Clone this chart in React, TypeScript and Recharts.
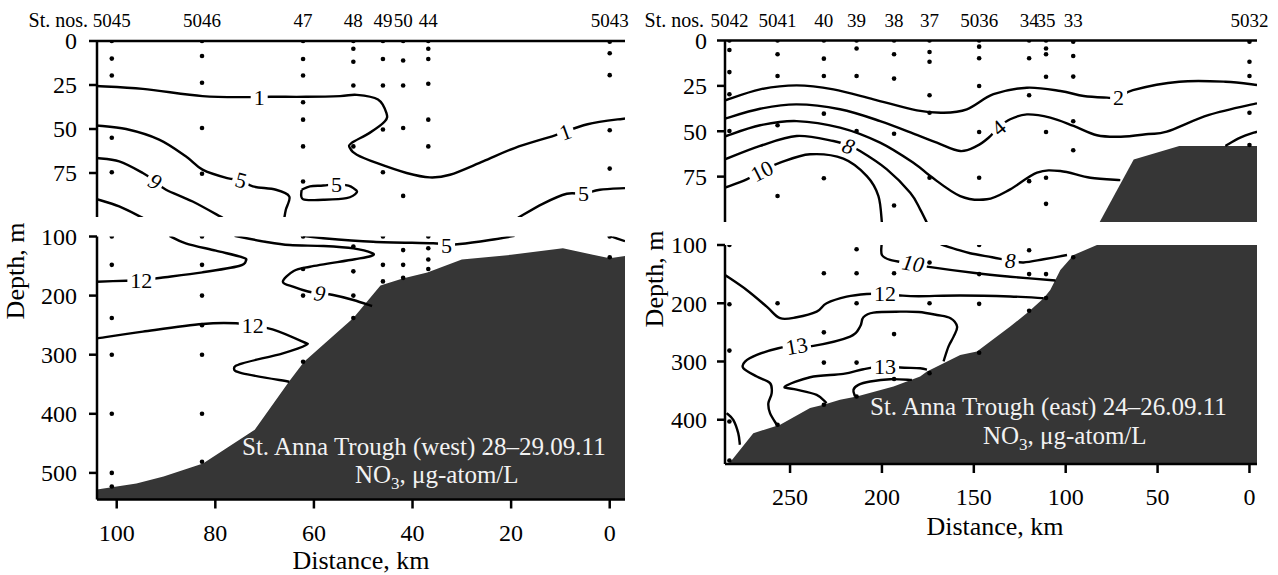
import React from 'react';
import { ComposedChart, Line, Area, Scatter, XAxis, YAxis } from 'recharts';

const FONT = 'Liberation Serif';

type Pt = [number, number];

// ---- stations (distance, km) ----
const westStations = ['5045', '5046', '47', '48', '49', '50', '44', '5043'];
const westStationKm = [101, 82.7, 62.2, 52, 46, 41.9, 36.8, 0];
const eastStations = ['5042', '5041', '40', '39', '38', '37', '5036', '34', '35', '33', '5032'];
const eastStationKm = [283, 256.8, 231.6, 213.8, 193.4, 174.1, 147.1, 119.9, 110.7, 95.9, 0];

// sampling depths per station, m
const westUpperDepths = [
  [0, 10, 19.6, 55, 74.6],
  [0, 8.5, 23.7, 49.4, 75.4],
  [0, 10.2, 19.6, 34.8, 44.7, 59.9, 79.8],
  [0, 4.4, 11.8, 25.3, 59.9],
  [0, 10.2, 25.3, 50.3, 74.6],
  [0, 11.1, 25.3, 49.4, 88],
  [0, 4.4, 10.2, 24.3, 44.7, 59.9],
  [0.4, 7, 19.4, 50.7, 72.5],
];
const westLowerDepths = [
  [100, 148, 238, 300, 400, 500, 523],
  [100, 148, 200, 250, 300, 400, 481],
  [100, 155, 200, 312],
  [117, 159, 200, 238],
  [100, 148, 176],
  [123, 148, 170],
  [100, 120, 139, 155],
  [100, 135],
];
const eastUpperDepths = [
  [0, 5.2, 17.4, 29.6, 49.9],
  [0, 7.6, 19.6, 46.7, 85.7],
  [0, 10, 19.6, 40.3, 75.9],
  [0, 4.4, 19.6, 49.9],
  [0, 7.6, 21, 51.4, 90.9],
  [0, 6.3, 11.7, 30.2, 39.8, 75.6],
  [0, 3.4, 9.8, 25.1, 50.4, 75.6],
  [0, 9.8, 30.2, 77.5],
  [0, 4.4, 7.6, 20, 50.4, 75.6, 90],
  [0.7, 8.5, 19.9, 44.5, 60.5],
  [0.7, 11.7, 19.6, 39.8, 57.6],
];
const eastLowerDepths = [
  [100, 201.7, 281.3, 403, 470],
  [200, 408.7],
  [148.5, 250, 301.9, 374.4],
  [107.4, 148.5, 200, 301.9, 360.2],
  [148.5, 253, 330],
  [130, 200, 320],
  [100, 150, 201, 285],
  [109, 150, 213],
  [150, 191],
  [121],
  [],
];

// ---- NO3 isolines, [distance km, depth m] ----
const westUpperLines: Pt[][] = [
  [[104, 25.6], [94.7, 27.2], [82.6, 31.3], [73.4, 31.9], [68.7, 31.7], [61.6, 31.7], [54.7, 31.3], [51.3, 30.6], [47, 33.2], [45.3, 40.9], [45.6, 45.6], [48.7, 52.2], [52.4, 58], [52.7, 60.8], [51.3, 64.6], [47.3, 69.3], [41.2, 75], [36.5, 77.5], [32.4, 76], [25.7, 68.4], [19.3, 60.8], [11.1, 53.6], [4.5, 47.3], [-3.1, 44]],
  [[104, 48], [98.1, 50], [91.4, 56], [86, 65.5], [82.6, 73.1], [77.6, 77.9], [74.8, 79], [72.4, 82.6], [67.7, 84.5], [65, 88.3], [65.7, 95.9], [66, 100.5]],
  [[62.5, 84.5], [62.2, 89.9], [58.1, 90.2], [53.4, 89.3], [51.3, 86], [52, 83.6], [53, 82.2], [55.1, 81.3], [58.1, 82.1], [60.8, 82.6], [62.5, 84.5]],
  [[18.6, 100.5], [13.6, 92.5], [8.7, 86.8], [5.3, 86.8], [2, 84.5], [-3.1, 83.6]],
  [[104, 66.5], [99.5, 68.4], [94.7, 75], [92.2, 79.8], [90, 84.5], [84.6, 91.2], [78.5, 100.5]],
  [[104, 89.9], [99.5, 94], [94.7, 100.5]],
];
const westLowerLines: Pt[][] = [
  [[104, 176.5], [98.1, 174.8], [94.7, 173.6], [91, 169.7], [82.6, 160.6], [75.2, 149.9], [73.8, 141], [74.5, 135.2], [79.9, 124], [86, 111.5], [89.3, 99]],
  [[76.1, 99], [69.9, 108.8], [64.9, 114.4], [58.1, 116.1], [52, 120], [48.2, 128], [48.4, 133], [51.7, 138.5], [60.8, 151.1], [64.1, 158.4], [66.3, 176.5], [64.1, 185.4], [61.2, 193.1], [58.8, 196.1], [56.1, 199], [52, 207.4], [48.2, 217.6]],
  [[62.2, 99], [58.1, 103], [48, 108.8], [35.8, 111.5], [33.1, 113.5], [30.4, 112.7], [24.3, 105.9], [19.3, 99]],
  [[0, 99], [-3.1, 108]],
  [[104, 272.3], [94.7, 261], [82.6, 248], [75.8, 246.9], [72.4, 252], [68.4, 257], [62.3, 278], [61.6, 283.6], [66.3, 297.6], [74.5, 314.6], [76.2, 323], [74.5, 331.5], [65, 345.7]],
];
const eastUpperLines: Pt[][] = [
  [[285.4, 33], [266.3, 26.9], [246.4, 24.7], [226.4, 26.9], [204.6, 32.4], [181, 38.5], [166.5, 39.8], [153.8, 37.9], [139.3, 29.6], [121.1, 26], [102.9, 27.8], [90.2, 30.6], [77.5, 31.5], [71.2, 31.5], [63.4, 27.3], [38.2, 22.7], [13.1, 22.7], [-4.1, 24.5]],
  [[285.4, 43], [266.3, 37.6], [246.4, 35.2], [222.8, 37.9], [201, 44.4], [181, 52], [170.1, 56.3], [157.4, 60.9], [148.3, 58.1], [142, 53.6], [136.6, 48], [130.2, 43.4], [121.1, 40.7], [108.4, 42.5], [95.7, 47.1], [83, 52.2], [70, 53], [55, 51.5], [45, 50.2], [22, 41], [-4.1, 34.6]],
  [[285.4, 52.8], [266.3, 46.7], [246.4, 44.4], [222.8, 48], [201, 56.3], [182, 68], [173.7, 74.7], [157.4, 85.7], [142.9, 87.5], [130.2, 82], [115.6, 72.8], [102.9, 71.9], [86.6, 75.6], [70.3, 76.9]],
  [[13.1, 58.1], [5, 53.5], [-4.1, 50.2]],
  [[285.4, 65.5], [266.3, 58.1], [246.4, 52.6], [226.4, 55.4], [218.2, 58.1], [211.9, 60.9], [197.3, 71], [184.6, 83.9], [179.2, 93], [175.5, 100.5]],
  [[285.4, 81.1], [273.6, 76.5], [265.4, 71.9], [255.4, 67.3], [239.1, 62.7], [221, 65.1], [208.2, 74.7], [201.9, 85.7], [200, 100.5]],
];
const eastLowerLines: Pt[][] = [
  [[200.2, 99], [200, 117.2], [195.5, 125.7], [185.6, 131.4], [175.5, 137.2], [148.3, 148.6], [130.2, 154.4], [105.5, 161]],
  [[168, 99], [160, 107], [152, 114.2], [140, 121], [130.2, 126.9], [122.9, 130], [112, 124.5], [99.3, 117.2]],
  [[285.4, 151.5], [273.6, 177.2], [262.7, 205.8], [255.4, 225.7], [246.4, 224], [235.5, 214.4], [230.1, 200], [219.2, 188.7], [208.3, 184.1], [198.3, 183.7], [190.1, 186.6], [180, 188], [157.4, 186.6], [130.2, 188.3], [112, 191.4]],
  [[257.2, 408.7], [260.9, 388.7], [261.8, 371.6], [260, 354.4], [260.9, 337.2], [268.1, 325.9], [275.4, 311.5], [274.5, 300.2], [268.1, 288.7], [256.4, 277.2], [246.4, 273.2], [237.3, 273.2], [217.3, 257.3], [211.9, 240.1], [210.1, 224], [204.6, 216.1], [190.1, 214.4], [180, 215], [170.1, 220.1], [162.7, 225.7], [159.1, 240.1], [161, 257.3], [163.8, 274.4], [166.5, 300]],
  [[230.1, 371.6], [235.5, 357.3], [247.8, 347.5], [252.7, 343], [239.1, 327], [221, 321.3], [210.1, 313.3], [198.3, 307.5], [190.1, 310.4], [179.2, 311.5], [175.5, 314]],
  [[214.6, 360.2], [215.5, 348.7], [212.8, 340.1], [206.4, 334.4], [195.5, 330.4], [183.7, 331.6]],
  [[284.5, 388.7], [280.9, 400.2], [278.2, 423], [277.3, 443]],
];

// ---- sea floor ----
const westBottom: Pt[] = [[104, 528], [96, 518], [90.5, 506], [82.5, 484], [72, 427], [65, 345], [62, 312], [52, 238], [46.5, 183], [42, 171], [37, 161], [30, 139], [20, 131], [9.5, 120], [0, 137], [-3.1, 133]];
const eastUpperBottom: Pt[] = [[81.5, 100], [63, 65.5], [38.2, 58.1], [-4.1, 58.1]];
const eastLowerBottom: Pt[] = [[285.4, 476], [282.7, 473.4], [270, 423], [255.4, 408.7], [239.1, 380], [231.8, 374.4], [222.8, 365.9], [213.7, 360.2], [193.7, 343], [179.2, 325.9], [175.5, 317.3], [157.4, 288.7], [148.3, 283], [130.2, 240.1], [120.2, 214.4], [112, 191.4], [108.4, 177.2], [102.9, 142.9], [95.7, 117.2], [83, 100], [-4.1, 100]];

// ---- isoline labels ----
const westUpperLabels = [
  { x: 71.1, y: 31.9, t: '1' },
  { x: 9, y: 51.7, t: '1', a: -20 },
  { x: 74.8, y: 79, t: '5', a: 15 },
  { x: 55.4, y: 81.3, t: '5' },
  { x: 92.2, y: 79.8, t: '9', a: 30, i: true },
  { x: 5.3, y: 86.8, t: '5' },
];
const westLowerLabels = [
  { x: 95, y: 174.5, t: '12' },
  { x: 72.4, y: 251, t: '12' },
  { x: 58.8, y: 196, t: '9', a: 10, i: true },
  { x: 33.1, y: 114.5, t: '5' },
];
const eastUpperLabels = [
  { x: 71.2, y: 31.5, t: '2' },
  { x: 136.6, y: 48, t: '4', a: -40 },
  { x: 218.2, y: 58.1, t: '8', a: 20, i: true },
  { x: 265.4, y: 71.9, t: '10', a: -27 },
];
const eastLowerLabels = [
  { x: 183, y: 131.4, t: '10', a: 10, i: true },
  { x: 130.2, y: 126.9, t: '8', i: true },
  { x: 198.3, y: 183.7, t: '12' },
  { x: 246.4, y: 273.2, t: '13', a: -10 },
  { x: 198.3, y: 307.5, t: '13' },
];

const westTicks = [100, 80, 60, 40, 20, 0];
const eastTicks = [250, 200, 150, 100, 50, 0];

// catmull-rom through the traced points
const smooth = (ctx: any) => {
  let p: number[][] = [];
  return {
    areaStart() {},
    areaEnd() {},
    lineStart() { p = []; },
    point(x: number, y: number) { p.push([x, y]); },
    lineEnd() {
      if (!p.length) return;
      ctx.moveTo(p[0][0], p[0][1]);
      for (let k = 0; k < p.length - 1; k++) {
        const a = p[k - 1] || p[k], b = p[k], c = p[k + 1], d = p[k + 2] || c;
        ctx.bezierCurveTo(
          b[0] + (c[0] - a[0]) / 6, b[1] + (c[1] - a[1]) / 6,
          c[0] - (d[0] - b[0]) / 6, c[1] - (d[1] - b[1]) / 6,
          c[0], c[1]
        );
      }
    },
  };
};

const DotShape = (props: any) => <circle cx={props.cx} cy={props.cy} r={2.3} fill="#000" />;

const LabelShape = (props: any) => {
  const { cx, cy, payload } = props;
  const w = payload.t.length * 11 + 6;
  return (
    <g transform={`rotate(${payload.a || 0} ${cx} ${cy})`}>
      <rect x={cx - w / 2} y={cy - 10} width={w} height={20} fill="#fff" />
      <text x={cx} y={cy} dy="0.35em" textAnchor="middle" fontSize={22} fontFamily={FONT}
        fontStyle={payload.i ? 'italic' : 'normal'} fill="#000">{payload.t}</text>
    </g>
  );
};

const YTick = (t: any) => (
  <text x={t.x} y={t.y} dy="0.35em" textAnchor="end" fontSize={24} fontFamily={FONT} fill="#000">
    {t.payload.value}
  </text>
);
const XTick = (t: any) => (
  <text x={t.x} y={t.y} dy="0.72em" textAnchor="middle" fontSize={24} fontFamily={FONT} fill="#000">
    {t.payload.value}
  </text>
);

const frame = { stroke: '#000', strokeWidth: 2.5 };

interface PanelProps {
  left: number; top: number; width: number; height: number;
  margin: { top: number; right: number; bottom: number; left: number };
  topH: number; yWidth: number; yMargin: number;
  xDomain: number[]; yDomain: number[]; yTicks: number[]; xTicks?: number[];
  km: number[]; names?: string[]; depths: number[][];
  lines: Pt[][]; labels: any[]; bottom?: Pt[];
}

function Panel(p: PanelProps) {
  const dots = p.depths.flatMap((ds, i) => ds.map(d => ({ x: p.km[i], y: d })));
  const lineData = p.lines.map(l => l.map(([x, y]) => ({ x, y })));
  const floor = p.bottom ? p.bottom.map(([x, y]) => ({ x, y })) : null;
  const StationTick = (t: any) => (
    <text x={t.x} y={26.5} textAnchor="middle" fontSize={19} fontFamily={FONT} fill="#000">
      {p.names ? p.names[p.km.indexOf(t.payload.value)] : ''}
    </text>
  );
  return (
    <div style={{ position: 'absolute', left: p.left, top: p.top }}>
      <ComposedChart width={p.width} height={p.height} margin={p.margin} style={{ fontFamily: FONT }}>
        {floor && (
          <Area data={floor} dataKey="y" baseValue={p.yDomain[1]} type="linear" fill="#363636"
            fillOpacity={1} stroke="none" isAnimationActive={false} />
        )}
        {lineData.map((d, i) => (
          <Line key={i} data={d} dataKey="y" type={smooth as any} stroke="#000" strokeWidth={2.4}
            dot={false} activeDot={false} isAnimationActive={false} />
        ))}
        <Scatter data={p.labels} shape={LabelShape} isAnimationActive={false} />
        <Scatter data={dots} shape={DotShape} isAnimationActive={false} />
        <XAxis dataKey="x" type="number" domain={p.xDomain} reversed allowDataOverflow
          ticks={p.xTicks} interval={0} tick={p.xTicks ? XTick : false} tickLine={p.xTicks ? frame : false}
          tickSize={9} tickMargin={15} height={p.xTicks ? 60 : 0} axisLine={frame} />
        <XAxis xAxisId="top" orientation="top" dataKey="x" type="number" domain={p.xDomain} reversed
          allowDataOverflow ticks={p.names ? p.km : undefined} interval={0}
          tick={p.names ? StationTick : false} tickLine={false} height={p.topH} axisLine={frame} />
        <YAxis dataKey="y" type="number" domain={p.yDomain} reversed allowDataOverflow ticks={p.yTicks}
          interval={0} width={p.yWidth} tick={YTick} tickLine={frame} tickSize={8} tickMargin={p.yMargin}
          axisLine={frame} />
        <YAxis yAxisId="r" orientation="right" dataKey="y" type="number" domain={p.yDomain} reversed
          allowDataOverflow width={0} tick={false} tickLine={false} axisLine={frame} />
      </ComposedChart>
    </div>
  );
}

const txt = { fontFamily: FONT, fill: '#000' };
const note = { fontFamily: FONT, fill: '#f2f2f2', fontSize: 25 };

export default function App() {
  return (
    <div style={{ position: 'absolute', left: 0, top: 0, width: 1278, height: 575, background: '#fff', fontFamily: FONT }}>
      <Panel left={0} top={0} width={640} height={225} margin={{ top: 0, right: 15, bottom: 8, left: 0 }}
        topH={41} yWidth={97} yMargin={12} xDomain={[-3.1, 104]} yDomain={[0, 100]} yTicks={[0, 25, 50, 75]}
        km={westStationKm} names={westStations} depths={westUpperDepths} lines={westUpperLines} labels={westUpperLabels} />
      <Panel left={0} top={216} width={640} height={359} margin={{ top: 20.5, right: 15, bottom: 15.5, left: 0 }}
        topH={0} yWidth={97} yMargin={12} xDomain={[-3.1, 104]} yDomain={[100, 545]} yTicks={[100, 200, 300, 400, 500]}
        xTicks={westTicks} km={westStationKm} depths={westLowerDepths} lines={westLowerLines}
        labels={westLowerLabels} bottom={westBottom} />
      <Panel left={640} top={0} width={638} height={230} margin={{ top: 0, right: 21, bottom: 8, left: 0 }}
        topH={40.5} yWidth={85} yMargin={10} xDomain={[-4.1, 285.4]} yDomain={[0, 100]} yTicks={[0, 25, 50, 75]}
        km={eastStationKm} names={eastStations} depths={eastUpperDepths} lines={eastUpperLines}
        labels={eastUpperLabels} bottom={eastUpperBottom} />
      <Panel left={640} top={226} width={638} height={349} margin={{ top: 19, right: 21, bottom: 51, left: 0 }}
        topH={0} yWidth={85} yMargin={10} xDomain={[-4.1, 285.4]} yDomain={[100, 476]} yTicks={[100, 200, 300, 400]}
        xTicks={eastTicks} km={eastStationKm} depths={eastLowerDepths} lines={eastLowerLines}
        labels={eastLowerLabels} bottom={eastLowerBottom} />

      <svg width={1278} height={575} style={{ position: 'absolute', left: 0, top: 0, pointerEvents: 'none' }}>
        <text x={88} y={26.5} textAnchor="end" fontSize={20} {...txt}>St. nos.</text>
        <text x={704} y={26.5} textAnchor="end" fontSize={20} {...txt}>St. nos.</text>
        <text transform="translate(24,271) rotate(-90)" textAnchor="middle" fontSize={26} {...txt}>Depth, m</text>
        <text transform="translate(663,279) rotate(-90)" textAnchor="middle" fontSize={26} {...txt}>Depth, m</text>
        <text x={361} y={569} textAnchor="middle" fontSize={26} {...txt}>Distance, km</text>
        <text x={995} y={535} textAnchor="middle" fontSize={26} {...txt}>Distance, km</text>
        <text x={242} y={455} {...note}>St. Anna Trough (west) 28–29.09.11</text>
        <text x={355} y={483} {...note}>NO<tspan fontSize={17} dy={6}>3</tspan><tspan dy={-6}>, μg-atom/L</tspan></text>
        <text x={870} y={415} {...note}>St. Anna Trough (east) 24–26.09.11</text>
        <text x={983} y={444} {...note}>NO<tspan fontSize={17} dy={6}>3</tspan><tspan dy={-6}>, μg-atom/L</tspan></text>
      </svg>
    </div>
  );
}
